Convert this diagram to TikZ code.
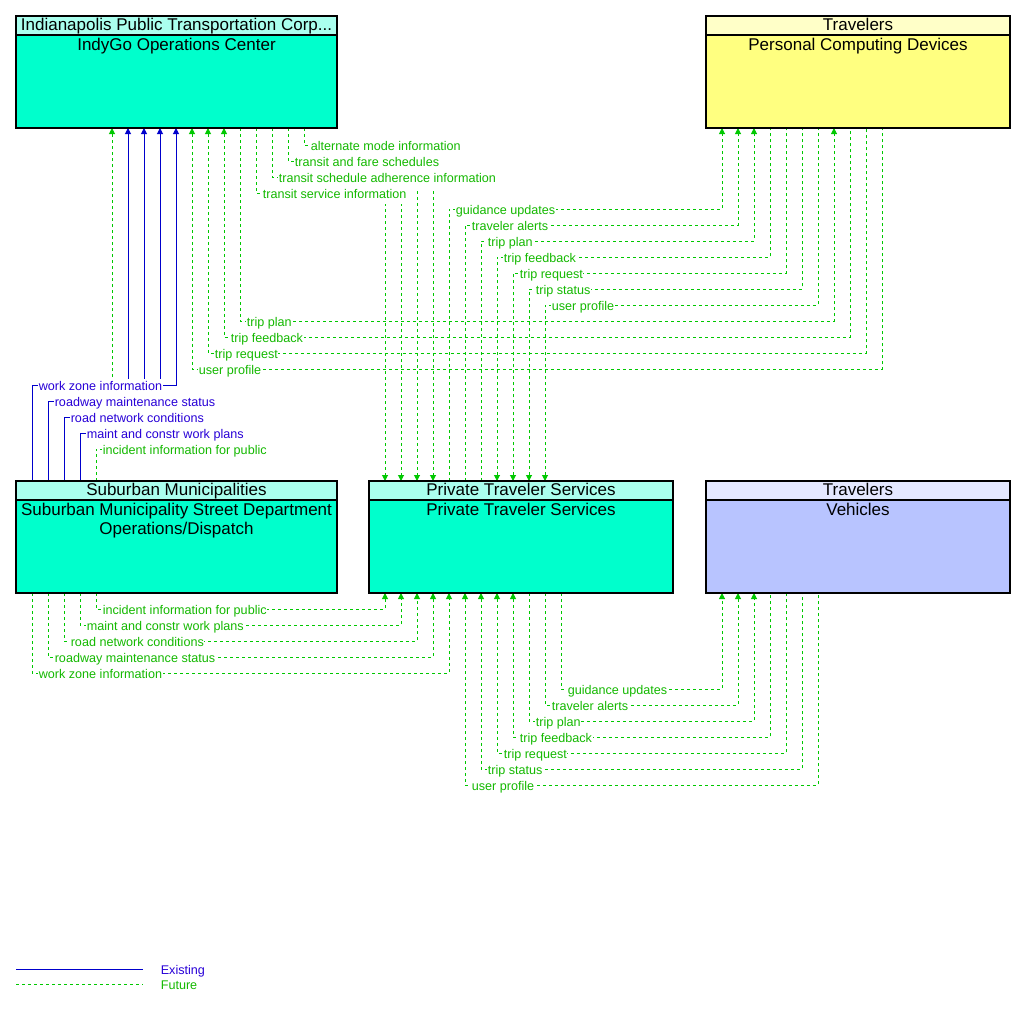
\documentclass[tikz,border=0pt]{standalone}
\usepackage{fontspec}
\setmainfont{Liberation Sans}
\usetikzlibrary{arrows.meta}
\pgfdeclarelayer{lines}
\pgfsetlayers{lines,main}
\definecolor{fgreen}{RGB}{0,200,0}
\definecolor{fgreentext}{RGB}{20,185,0}
\definecolor{eblue}{RGB}{0,0,204}
\definecolor{ebluetext}{RGB}{40,0,215}
\definecolor{cyanbody}{RGB}{0,255,204}
\definecolor{cyanhead}{RGB}{170,255,238}
\definecolor{yelbody}{RGB}{255,255,128}
\definecolor{yelhead}{RGB}{255,255,200}
\definecolor{vehbody}{RGB}{184,196,255}
\definecolor{vehhead}{RGB}{228,232,255}
\tikzset{
  boxpart/.style={draw=black, line width=1.1pt, anchor=north west, inner sep=0pt, outer sep=0pt},
  hdr/.style={boxpart, minimum height=19pt},
  bdy/.style={boxpart, minimum height=93pt},
  ttl/.style={anchor=base, inner sep=0pt, font=\fontsize{17}{19}\selectfont, text=black},
  fut/.style={draw=fgreen, line width=1pt, dash pattern=on 3pt off 3pt, >={Triangle[width=6pt,length=6pt]}},
  ex/.style={draw=eblue, line width=1pt, >={Triangle[width=6pt,length=6pt]}},
  flbl/.style={fill=white, inner xsep=0.6pt, inner ysep=1pt, text height=10pt, text depth=4.5pt,
    font=\fontsize{12.6}{14}\selectfont, text=fgreentext, anchor=base west},
  elbl/.style={flbl, text=ebluetext},
}
% #1 label name, #2 line style, #3 label style, #4 node A, #5 xL, #6 y, #7 xR, #8 node B, #9 text
\newcommand\flowline[9]{%
  \begin{pgfonlayer}{lines}
    \draw[#2] (#4 -| #5,0) -- (#5,#6) -- (#7,#6) -- (#8 -| #7,0);
  \end{pgfonlayer}
  \node[#3] (#1) at ({#5+6},{#6+5}) {#9};
}
\begin{document}
\begin{tikzpicture}[x=1pt,y=-1pt]
\useasboundingbox (0,0) rectangle (1024,1009);

% boxes
\node[hdr, fill=cyanhead, minimum width=321pt] (indyh) at (16,16) {};
\node[bdy, fill=cyanbody, minimum width=321pt] (indy) at (16,35) {};
\node[ttl] (indyht) at (176.5,30.5) {Indianapolis Public Transportation Corp...};
\node[ttl] (indyt) at (176.5,50) {IndyGo Operations Center};

\node[hdr, fill=yelhead, minimum width=304pt] (pcdh) at (706,16) {};
\node[bdy, fill=yelbody, minimum width=304pt] (pcd) at (706,35) {};
\node[ttl] (pcdht) at (858,30.5) {Travelers};
\node[ttl] (pcdt) at (858,50) {Personal Computing Devices};

\node[hdr, fill=cyanhead, minimum width=321pt] (subh) at (16,481) {};
\node[bdy, fill=cyanbody, minimum width=321pt] (sub) at (16,500) {};
\node[ttl] (subht) at (176.5,495.5) {Suburban Municipalities};
\node[ttl] (subt1) at (176.5,515) {Suburban Municipality Street Department};
\node[ttl] (subt2) at (176.5,534) {Operations/Dispatch};

\node[hdr, fill=cyanhead, minimum width=304pt] (ptsh) at (369,481) {};
\node[bdy, fill=cyanbody, minimum width=304pt] (pts) at (369,500) {};
\node[ttl] (ptsht) at (521,495.5) {Private Traveler Services};
\node[ttl] (ptst) at (521,515) {Private Traveler Services};

\node[hdr, fill=vehhead, minimum width=304pt] (vehh) at (706,481) {};
\node[bdy, fill=vehbody, minimum width=304pt] (veh) at (706,500) {};
\node[ttl] (vehht) at (858,495.5) {Travelers};
\node[ttl] (veht) at (858,515) {Vehicles};

% IndyGo -> Private Traveler Services
\flowline{l1}{fut,->}{flbl}{indy.south}{304}{145}{433}{ptsh.north}{alternate mode information}
\flowline{l2}{fut,->}{flbl}{indy.south}{288}{161}{417}{ptsh.north}{transit and fare schedules}
\flowline{l3}{fut,->}{flbl}{indy.south}{272}{177}{401}{ptsh.north}{transit schedule adherence information}
\flowline{l4}{fut,->}{flbl}{indy.south}{256}{193}{385}{ptsh.north}{transit service information}

% Private Traveler Services <-> Personal Computing Devices
\flowline{l5}{fut,->}{flbl}{ptsh.north}{449}{209}{722}{pcd.south}{guidance updates}
\flowline{l6}{fut,->}{flbl}{ptsh.north}{465}{225}{738}{pcd.south}{traveler alerts}
\flowline{l7}{fut,->}{flbl}{ptsh.north}{481}{241}{754}{pcd.south}{trip plan}
\flowline{l8}{fut,<-}{flbl}{ptsh.north}{497}{257}{770}{pcd.south}{trip feedback}
\flowline{l9}{fut,<-}{flbl}{ptsh.north}{513}{273}{786}{pcd.south}{trip request}
\flowline{l10}{fut,<-}{flbl}{ptsh.north}{529}{289}{802}{pcd.south}{trip status}
\flowline{l11}{fut,<-}{flbl}{ptsh.north}{545}{305}{818}{pcd.south}{user profile}

% IndyGo <-> Personal Computing Devices
\flowline{l12}{fut,->}{flbl}{indy.south}{240}{321}{834}{pcd.south}{trip plan}
\flowline{l13}{fut,<-}{flbl}{indy.south}{224}{337}{850}{pcd.south}{trip feedback}
\flowline{l14}{fut,<-}{flbl}{indy.south}{208}{353}{866}{pcd.south}{trip request}
\flowline{l15}{fut,<-}{flbl}{indy.south}{192}{369}{882}{pcd.south}{user profile}

% Suburban -> IndyGo
\flowline{l16}{ex,->}{elbl}{subh.north}{32}{385}{176}{indy.south}{work zone information}
\flowline{l17}{ex,->}{elbl}{subh.north}{48}{401}{160}{indy.south}{roadway maintenance status}
\flowline{l18}{ex,->}{elbl}{subh.north}{64}{417}{144}{indy.south}{road network conditions}
\flowline{l19}{ex,->}{elbl}{subh.north}{80}{433}{128}{indy.south}{maint and constr work plans}
\flowline{l20}{fut,->}{flbl}{subh.north}{96}{449}{112}{indy.south}{incident information for public}

% Suburban -> Private Traveler Services
\flowline{l21}{fut,->}{flbl}{sub.south}{96}{609}{385}{pts.south}{incident information for public}
\flowline{l22}{fut,->}{flbl}{sub.south}{80}{625}{401}{pts.south}{maint and constr work plans}
\flowline{l23}{fut,->}{flbl}{sub.south}{64}{641}{417}{pts.south}{road network conditions}
\flowline{l24}{fut,->}{flbl}{sub.south}{48}{657}{433}{pts.south}{roadway maintenance status}
\flowline{l25}{fut,->}{flbl}{sub.south}{32}{673}{449}{pts.south}{work zone information}

% Private Traveler Services <-> Vehicles
\flowline{l26}{fut,->}{flbl}{pts.south}{561}{689}{722}{veh.south}{guidance updates}
\flowline{l27}{fut,->}{flbl}{pts.south}{545}{705}{738}{veh.south}{traveler alerts}
\flowline{l28}{fut,->}{flbl}{pts.south}{529}{721}{754}{veh.south}{trip plan}
\flowline{l29}{fut,<-}{flbl}{pts.south}{513}{737}{770}{veh.south}{trip feedback}
\flowline{l30}{fut,<-}{flbl}{pts.south}{497}{753}{786}{veh.south}{trip request}
\flowline{l31}{fut,<-}{flbl}{pts.south}{481}{769}{802}{veh.south}{trip status}
\flowline{l32}{fut,<-}{flbl}{pts.south}{465}{785}{818}{veh.south}{user profile}

% legend
\coordinate (exA) at (16,969);
\coordinate (exB) at (143,969);
\draw[ex] (exA) -- (exB);
\node[elbl, fill=none] (exT) at (160,974.5) {Existing};
\coordinate (fuA) at (16,984);
\coordinate (fuB) at (143,984);
\draw[fut] (fuA) -- (fuB);
\node[flbl, fill=none] (fuT) at (160,989.5) {Future};
\end{tikzpicture}
\end{document}
